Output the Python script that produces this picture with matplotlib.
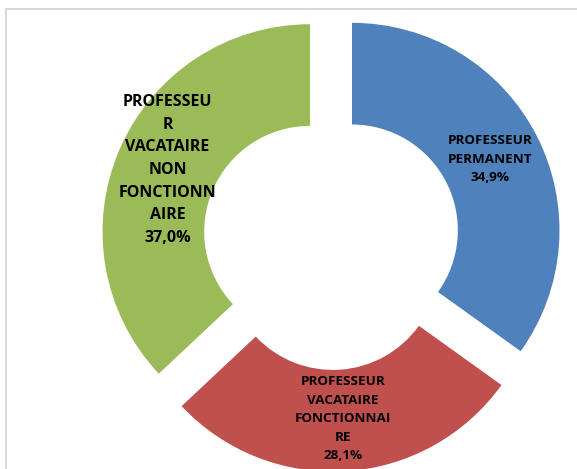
import matplotlib.pyplot as plt
import numpy as np
from matplotlib.patches import Rectangle

# Données du graphique
categories = ["PROFESSEUR\nPERMANENT",
              "PROFESSEUR\nVACATAIRE\nFONCTIONNAI\nRE",
              "PROFESSEU\nR\nVACATAIRE\nNON\nFONCTIONN\nAIRE"]
valeurs = [34.9, 28.1, 37.0]
couleurs = ["#4F81BD", "#C0504D", "#9BBB59"]
tailles = [9.7, 9.7, 11.5]

fig = plt.figure(figsize=(5.77, 4.69), dpi=100)
ax = fig.add_axes([0, 0, 1, 1])

explode = 0.112
wedges, _ = ax.pie(valeurs, colors=couleurs, startangle=90, counterclock=False,
                   explode=[explode] * 3, radius=1.0,
                   wedgeprops=dict(width=0.49, linewidth=0))

# Étiquettes au milieu de chaque segment
for w, cat, val, fs in zip(wedges, categories, valeurs, tailles):
    ang = np.deg2rad((w.theta1 + w.theta2) / 2)
    r = 0.86
    txt = cat + "\n" + f"{val:.1f}%".replace(".", ",")
    ax.text(r * np.cos(ang), r * np.sin(ang), txt, ha="center", va="center",
            fontsize=fs, fontweight="bold",
            family=["Open Sans", "DejaVu Sans"],
            color="black", linespacing=1.55)

ax.set_xlim(-1.597, 1.184)
ax.set_ylim(-1.099, 1.161)
ax.set_aspect("equal")
ax.axis("off")

# Cadre gris autour du graphique
fig.patches.append(Rectangle((6 / 577, -0.05), 1.1, 1 - 9 / 469 + 0.05,
                             transform=fig.transFigure, fill=False,
                             edgecolor="#D9D9D9", linewidth=1.5))

fig.savefig("out.png", dpi=100)
